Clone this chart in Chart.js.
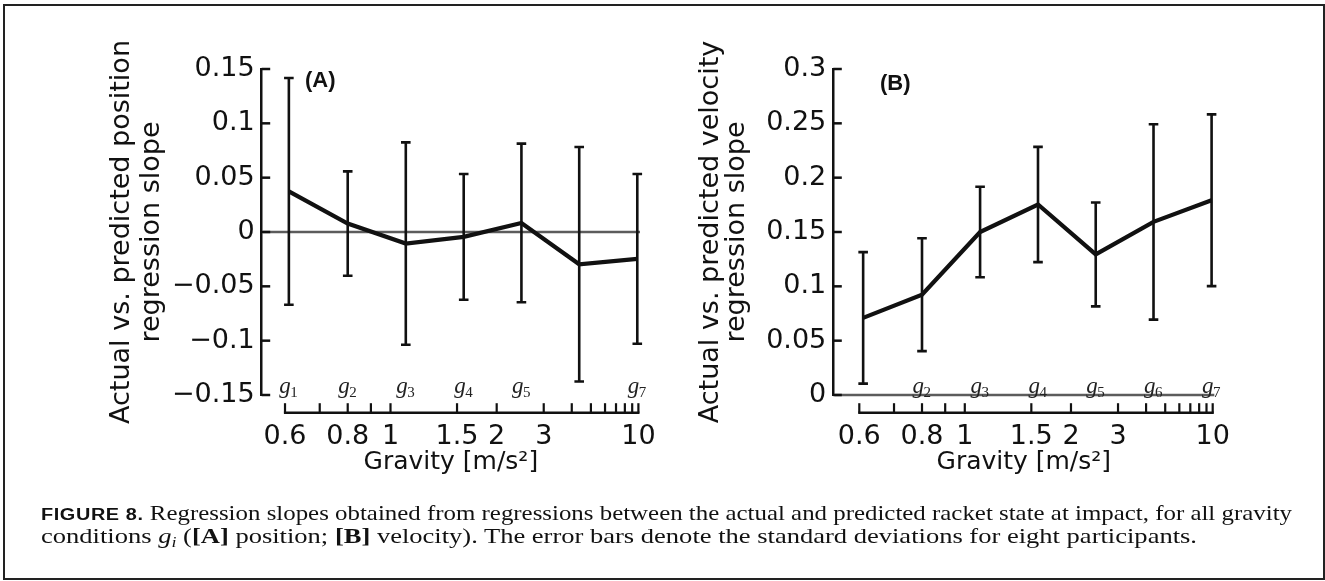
<!DOCTYPE html>
<html>
<head>
<meta charset="utf-8">
<script src="https://cdn.jsdelivr.net/npm/chart.js@4.4.1/dist/chart.umd.min.js"></script>
<style>
html,body{margin:0;padding:0;background:#fff;}
body{width:1325px;height:581px;position:relative;overflow:hidden;}
#frame{position:absolute;left:3px;top:4px;width:1322px;height:576px;border:2.5px solid #222;box-sizing:border-box;}
canvas{position:absolute;top:0;}
#cA{left:0;}
#cB{left:662px;}
.cap{position:absolute;left:41px;white-space:nowrap;font-family:"Liberation Serif","Times New Roman",serif;font-size:21px;line-height:0;color:#111;transform-origin:0 0;}
.fig{font-family:"Liberation Sans",Arial,sans-serif;font-weight:bold;font-size:0.8em;letter-spacing:0.03em;}
.cap sub{font-size:0.68em;vertical-align:-0.25em;line-height:0;}
#cap1{top:513px;}
#cap2{top:536px;}
</style>
</head>
<body>
<div id="frame"></div>
<canvas id="cA" width="662" height="581"></canvas>
<canvas id="cB" width="663" height="581"></canvas>
<div class="cap" id="cap1"><span class="fig">FIGURE 8.</span> Regression slopes obtained from regressions between the actual and predicted racket state at impact, for all gravity</div>
<div class="cap" id="cap2">conditions <i>g<sub>i</sub></i> (<b>[A]</b> position; <b>[B]</b> velocity). The error bars denote the standard deviations for eight participants.</div>
<script>
// ---- data ----
const conditionGravity = [0.61, 0.80, 1.09, 1.57, 2.45, 4.35, 9.81];   // g1..g7 in m/s^2
const conditionNames = ['1', '2', '3', '4', '5', '6', '7'];
const positionMean = [0.0374, 0.0078, -0.0106, -0.0045, 0.0083, -0.0297, -0.0247];
const positionSD   = [0.1043, 0.0480, 0.0931, 0.0579, 0.0730, 0.1079, 0.0781];
const velocityMean = [0.0710, 0.0923, 0.1500, 0.1753, 0.1294, 0.1593, 0.1792];
const velocitySD   = [0.0605, 0.0519, 0.0417, 0.0530, 0.0478, 0.0899, 0.0790];
const gravityTicks = [0.6, 0.7, 0.8, 0.9, 1, 1.5, 2, 3, 4, 5, 6, 7, 8, 9, 10];
const gravityTickLabels = ['0.6', '', '0.8', '', '1', '1.5', '2', '3', '', '', '', '', '', '', '10'];
const positionYTicks = [-0.15, -0.1, -0.05, 0, 0.05, 0.1, 0.15];
const positionYTickLabels = ['\u22120.15', '\u22120.1', '\u22120.05', '0', '0.05', '0.1', '0.15'];
const velocityYTicks = [0, 0.05, 0.1, 0.15, 0.2, 0.25, 0.3];
const velocityYTickLabels = ['0', '0.05', '0.1', '0.15', '0.2', '0.25', '0.3'];
const positionHiddenLabels = ['6'];
const velocityHiddenLabels = ['1'];

// x axis is linear in 1/sqrt(g)
const toU = g => -1 / Math.sqrt(g);

const INK = '#111';
const SANS = '"DejaVu Sans", Verdana, sans-serif';
const SERIF = '"Liberation Serif", "Times New Roman", serif';

const decor = {
  id: 'decor',
  beforeDatasetsDraw(chart, args, o) {
    const {ctx, chartArea: a, scales: {x, y}} = chart;
    ctx.save();
    const y0 = y.getPixelForValue(0);
    ctx.strokeStyle = '#5c5c5c';
    ctx.lineWidth = 2.5;
    ctx.beginPath(); ctx.moveTo(a.left + 1.2, y0); ctx.lineTo(a.right, y0); ctx.stroke();
    ctx.strokeStyle = INK;
    ctx.lineWidth = 2.6;
    o.mean.forEach((m, i) => {
      const px = x.getPixelForValue(toU(conditionGravity[i]));
      const pt = y.getPixelForValue(m + o.sd[i]);
      const pb = y.getPixelForValue(m - o.sd[i]);
      ctx.beginPath();
      ctx.moveTo(px, pt); ctx.lineTo(px, pb);
      ctx.moveTo(px - 4.8, pt); ctx.lineTo(px + 4.8, pt);
      ctx.moveTo(px - 4.8, pb); ctx.lineTo(px + 4.8, pb);
      ctx.stroke();
    });
    ctx.restore();
  },
  afterDraw(chart, args, o) {
    const {ctx, chartArea: a, scales: {x, y}} = chart;
    ctx.save();
    ctx.strokeStyle = INK;
    ctx.fillStyle = INK;
    ctx.lineWidth = 2.5;
    y.ticks.forEach(t => {
      const py = y.getPixelForValue(t.value);
      ctx.beginPath(); ctx.moveTo(a.left, py); ctx.lineTo(a.left + 8.5, py); ctx.stroke();
    });
    const axisY = a.bottom + 17.7;
    const gx0 = x.getPixelForValue(toU(gravityTicks[0]));
    const gx1 = x.getPixelForValue(toU(gravityTicks[gravityTicks.length - 1]));
    ctx.lineWidth = 2.5;
    ctx.beginPath(); ctx.moveTo(gx0 - 1.1, axisY); ctx.lineTo(gx1 + 1.1, axisY); ctx.stroke();
    ctx.lineWidth = 2.2;
    ctx.font = '27px ' + SANS;
    ctx.textAlign = 'center';
    ctx.textBaseline = 'alphabetic';
    gravityTicks.forEach((g, i) => {
      const px = x.getPixelForValue(toU(g));
      ctx.beginPath(); ctx.moveTo(px, axisY); ctx.lineTo(px, axisY - 9.5); ctx.stroke();
      if (gravityTickLabels[i]) ctx.fillText(gravityTickLabels[i], px, axisY + 31);
    });
    ctx.font = '25px ' + SANS;
    ctx.fillText('Gravity [m/s\u00b2]', (a.left + a.right) / 2, axisY + 56);
    conditionGravity.forEach((g, i) => {
      if (o.hidden.includes(conditionNames[i])) return;
      const px = x.getPixelForValue(toU(g));
      ctx.font = 'italic 23px ' + SERIF;
      const wg = ctx.measureText('g').width;
      ctx.font = '15px ' + SERIF;
      const ws = ctx.measureText(conditionNames[i]).width;
      const sx = px - (wg + ws) / 2;
      ctx.fillStyle = '#222';
      ctx.textAlign = 'left';
      ctx.font = 'italic 23px ' + SERIF;
      ctx.fillText('g', sx, a.bottom - 2);
      ctx.font = '15px ' + SERIF;
      ctx.fillText(conditionNames[i], sx + wg - 0.5, a.bottom + 1.5);
    });
    ctx.fillStyle = INK;
    ctx.font = 'bold 22px "Liberation Sans", Arial, sans-serif';
    ctx.textAlign = 'left';
    ctx.textBaseline = 'middle';
    ctx.fillText(o.tag, a.left + o.tagDx, a.top + o.tagDy);
    ctx.restore();
  }
};

function makePanel(id, p) {
  return new Chart(document.getElementById(id), {
    type: 'line',
    data: {
      datasets: [{
        data: conditionGravity.map((g, i) => ({x: toU(g), y: p.mean[i]})),
        borderColor: INK,
        borderWidth: 4.2,
        pointRadius: 0,
        tension: 0,
        fill: false,
        borderJoinStyle: 'miter'
      }]
    },
    options: {
      responsive: false,
      animation: false,
      devicePixelRatio: 1,
      layout: {padding: {left: p.padLeft, right: p.padRight, top: 69, bottom: 186}},
      plugins: {
        legend: {display: false},
        tooltip: {enabled: false},
        decor: {mean: p.mean, sd: p.sd, hidden: p.hidden, tag: p.tag, tagDx: p.tagDx, tagDy: p.tagDy}
      },
      scales: {
        x: {type: 'linear', display: false, min: p.xMin, max: p.xMax},
        y: {
          type: 'linear',
          min: p.yTicks[0],
          max: p.yTicks[p.yTicks.length - 1],
          afterBuildTicks: s => { s.ticks = p.yTicks.map(v => ({value: v})); },
          afterFit: s => { s.width = p.yWidth; },
          grid: {display: true, drawOnChartArea: false, drawTicks: false},
          border: {display: true, color: INK, width: 2.5},
          ticks: {
            autoSkip: false,
            padding: 7,
            color: INK,
            font: {family: SANS, size: 27},
            callback: (v, i) => p.yLabels[i]
          },
          title: {
            display: true,
            text: p.title,
            color: INK,
            padding: 0,
            font: {family: SANS, size: 27, lineHeight: p.lineHeight + 'px'}
          }
        }
      }
    },
    plugins: [decor]
  });
}

makePanel('cA', {
  mean: positionMean, sd: positionSD, hidden: positionHiddenLabels,
  yTicks: positionYTicks, yLabels: positionYTickLabels,
  title: ['Actual vs. predicted position', 'regression slope'],
  padLeft: 106.5, yWidth: 155.2, padRight: 22, lineHeight: 30,
  xMin: -1.3553, xMax: -0.3118,
  tag: '(A)', tagDx: 43.3, tagDy: 12
});

makePanel('cB', {
  mean: velocityMean, sd: velocitySD, hidden: velocityHiddenLabels,
  yTicks: velocityYTicks, yLabels: velocityYTickLabels,
  title: ['Actual vs. predicted velocity', 'regression slope'],
  padLeft: 35.5, yWidth: 135.8, padRight: 110.7, lineHeight: 26,
  xMin: -1.3627, xMax: -0.3118,
  tag: '(B)', tagDx: 46.7, tagDy: 14.5
});

// caption fitting: stretch to the measured extents, justify line 1
(function () {
  const c1 = document.getElementById('cap1');
  const c2 = document.getElementById('cap2');
  const f = 21;
  c1.style.top = (520.5 - 0.3375 * f) + 'px';
  c2.style.top = (543.3 - 0.3375 * f) + 'px';
  const w2 = c2.getBoundingClientRect().width;
  const s = 1156 / w2;
  c2.style.transform = 'scaleX(' + s + ')';
  const w1 = c1.getBoundingClientRect().width;
  const spaces = (c1.textContent.match(/ /g) || []).length;
  const extra = (1251 / s - w1) / spaces;
  if (extra >= 0) {
    c1.style.wordSpacing = extra + 'px';
    c1.style.transform = 'scaleX(' + s + ')';
  } else {
    c1.style.transform = 'scaleX(' + (1251 / w1) + ')';
  }
})();
</script>
</body>
</html>
